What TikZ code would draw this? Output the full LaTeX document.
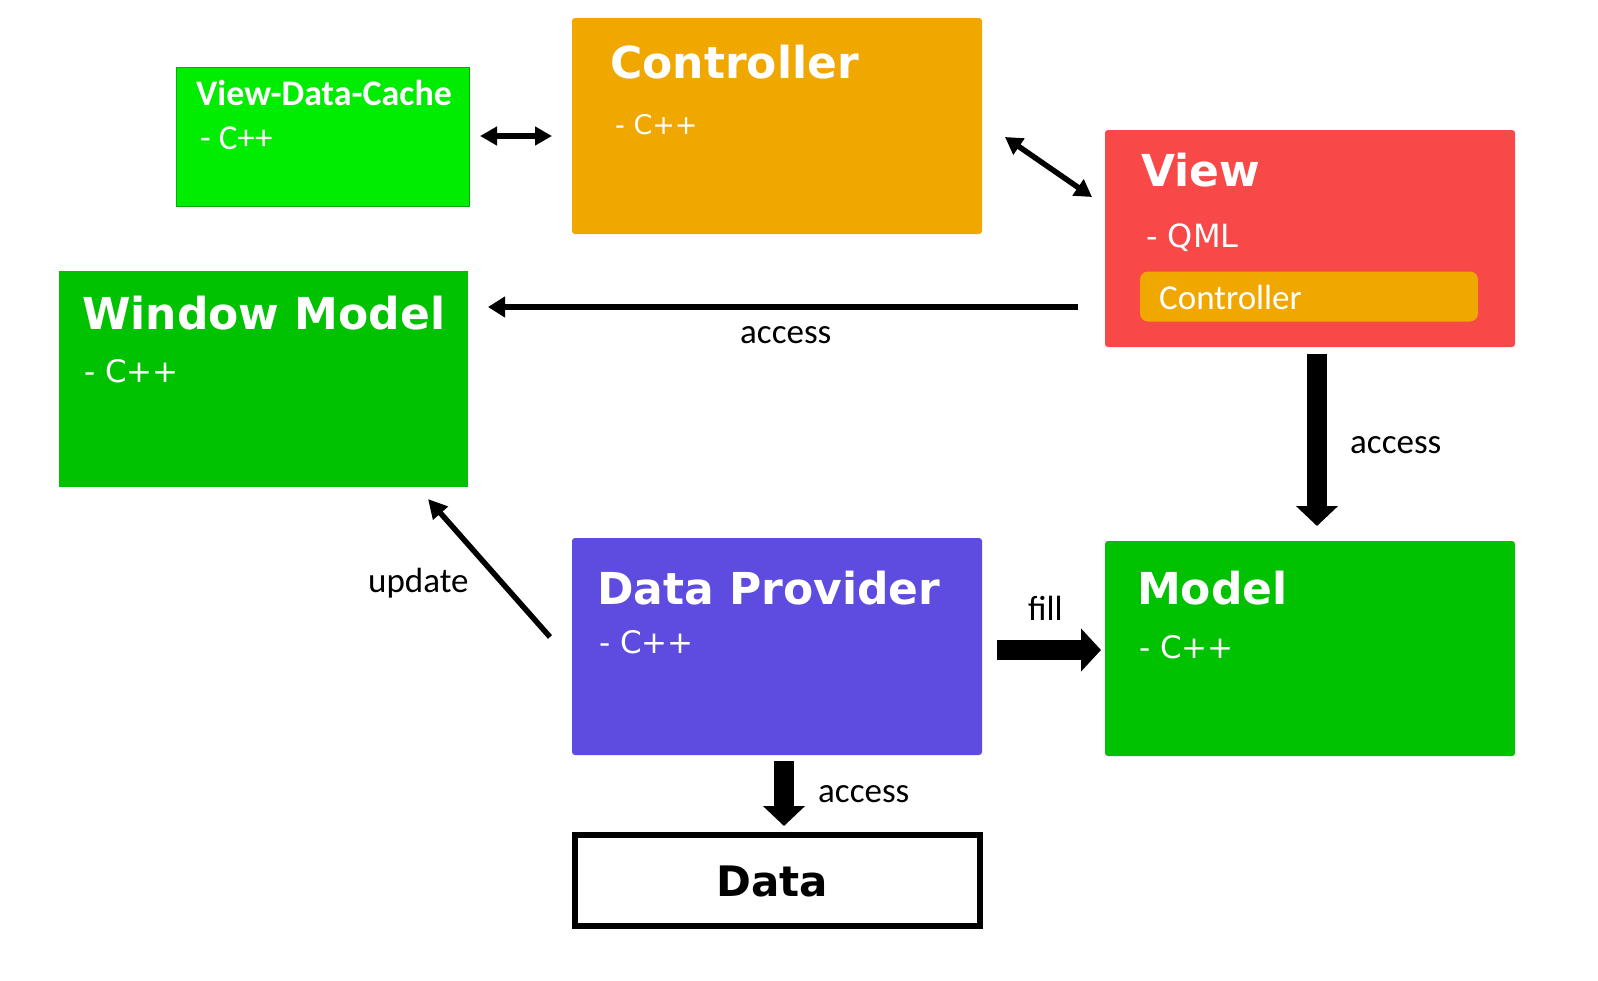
\documentclass[tikz,border=0pt]{standalone}
\usepackage{fontspec}
\usetikzlibrary{arrows.meta}
\newfontfamily\dvs{DejaVu Sans}
\newfontfamily\carl{Carlito}
\definecolor{vdcgreen}{RGB}{0,236,0}
\definecolor{vdcborder}{RGB}{0,176,0}
\definecolor{ctrlorange}{RGB}{240,168,0}
\definecolor{viewred}{RGB}{248,72,72}
\definecolor{modgreen}{RGB}{0,194,0}
\definecolor{dpblue}{RGB}{94,75,224}
\tikzset{
  box/.style={rectangle, draw=none, rounded corners=3pt, inner sep=0pt},
  ttl/.style={anchor=base west, inner sep=0pt, text=white, font=\dvs\bfseries\fontsize{44}{50}\selectfont},
  sub/.style={anchor=base west, inner sep=0pt, text=white, font=\dvs\fontsize{31}{36}\selectfont},
  lbl/.style={anchor=base west, inner sep=0pt, text=black, font=\carl\fontsize{35}{40}\selectfont},
  thin/.style={line width=5.5pt, draw=black},
  thick/.style={line width=20pt, draw=black, -{Triangle[length=20pt,width=41pt]}}
}
\begin{document}
\begin{tikzpicture}[x=1pt,y=-1pt]
\useasboundingbox (0,0) rectangle (1598,980);
% boxes
\node[box, fill=vdcgreen, draw=vdcborder, line width=1.5pt, rounded corners=0pt, minimum width=293pt, minimum height=139pt] (vdc) at (323,137) {};
\node[box, fill=ctrlorange, minimum width=410pt, minimum height=216pt] (ctrl) at (777,126) {};
\node[box, fill=viewred, minimum width=410pt, minimum height=217pt] (view) at (1310,238.5) {};
\node[box, fill=ctrlorange, rounded corners=8pt, minimum width=338pt, minimum height=50pt] (viewctrl) at (1309,296.5) {};
\node[box, fill=modgreen, rounded corners=0pt, minimum width=409pt, minimum height=216pt] (wm) at (263.5,379) {};
\node[box, fill=dpblue, minimum width=410pt, minimum height=217pt] (dp) at (777,646.5) {};
\node[box, fill=modgreen, minimum width=410pt, minimum height=215pt] (model) at (1310,648.5) {};
\node[rectangle, draw=black, line width=6pt, fill=white, minimum width=405pt, minimum height=91pt, inner sep=0pt] (data) at (777.5,880.5) {};
% texts
\node[anchor=base west, inner sep=0pt, text=white, font=\carl\bfseries\fontsize{36}{40}\selectfont] (vdcT) at (196,105) {View-Data-Cache};
\node[anchor=base west, inner sep=0pt, text=white, font=\carl\fontsize{35}{40}\selectfont] (vdcS) at (200,149) {- C++};
\node[ttl] (ctrlT) at (610,78) {Controller};
\node[sub, font=\dvs\fontsize{27}{32}\selectfont] (ctrlS) at (615,134) {- C++};
\node[ttl] (viewT) at (1141,186) {View};
\node[sub, font=\dvs\fontsize{32}{36}\selectfont] (viewS) at (1146,247) {- QML};
\node[anchor=base west, inner sep=0pt, text=white, font=\carl\fontsize{35}{40}\selectfont] (viewctrlT) at (1159,309) {Controller};
\node[ttl] (wmT) at (82,329) {Window Model};
\node[sub] (wmS) at (84,382) {- C++};
\node[ttl] (dpT) at (597,604) {Data Provider};
\node[sub] (dpS) at (599,653) {- C++};
\node[ttl] (modelT) at (1137,604) {Model};
\node[sub] (modelS) at (1139,658) {- C++};
\node[anchor=base, inner sep=0pt, text=black, font=\dvs\bfseries\fontsize{42}{48}\selectfont] (dataT) at (772,896) {Data};
% labels
\node[lbl] (lAccTop) at (740,343) {access};
\node[lbl] (lAccRight) at (1350,453) {access};
\node[lbl] (lUpdate) at (368,592) {update};
\node[lbl] (lFill) at (1028,620) {fill};
\node[lbl] (lAccBot) at (818,802) {access};
% connector end points
\coordinate (c1a) at (480,136);
\coordinate (c1b) at (552,136);
\coordinate (c2a) at (1005,137);
\coordinate (c2b) at (1092,197);
\coordinate (c3a) at (1078,307);
\coordinate (c3b) at (488,307);
\coordinate (c4a) at (1317,354);
\coordinate (c4b) at (1317,526);
\coordinate (c5a) at (550,637);
\coordinate (c5b) at (428,499);
\coordinate (c6a) at (997,650);
\coordinate (c6b) at (1101,650);
\coordinate (c7a) at (784,761);
\coordinate (c7b) at (784,826);
% arrows
\draw[thin, {Triangle[length=17pt,width=18pt]}-{Triangle[length=17pt,width=18pt]}] (c1a) -- (c1b);
\draw[thin, {Triangle[length=17pt,width=19pt]}-{Triangle[length=17pt,width=19pt]}] (c2a) -- (c2b);
\draw[line width=6pt, -{Triangle[length=17pt,width=20pt]}] (c3a) -- (c3b);
\draw[thick] (c4a) -- (c4b);
\draw[thin, -{Triangle[length=19pt,width=19pt]}] (c5a) -- (c5b);
\draw[thick, -{Triangle[length=20pt,width=42pt]}] (c6a) -- (c6b);
\draw[thick] (c7a) -- (c7b);
\end{tikzpicture}
\end{document}
